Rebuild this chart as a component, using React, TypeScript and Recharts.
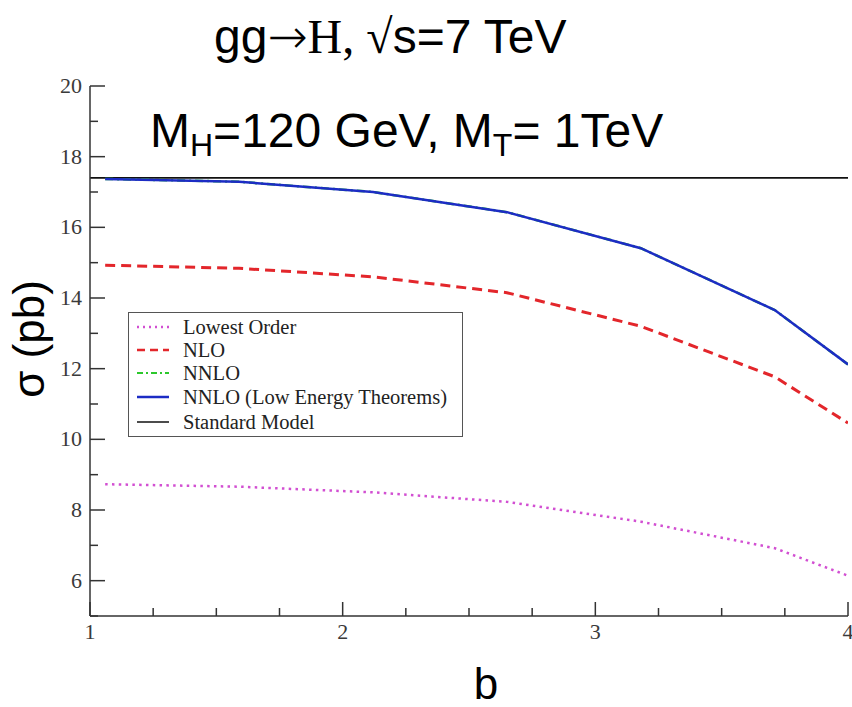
import { LineChart, Line, XAxis, YAxis, Legend } from "recharts";

// b values where the curves were computed
const bValues = [1.06, 1.59, 2.12, 2.65, 3.18, 3.71, 4.0];
// cross sections in pb
const lowestOrder = [8.73, 8.66, 8.5, 8.23, 7.67, 6.92, 6.14];
const nlo = [14.93, 14.84, 14.6, 14.15, 13.2, 11.77, 10.46];
const nnlo = [17.37, 17.29, 17.0, 16.43, 15.41, 13.66, 12.12];
const nnloLet = [17.37, 17.29, 17.0, 16.43, 15.41, 13.66, 12.12];
// standard model reference
const smB = [1, 4];
const smSigma = [17.4, 17.4];

const xTicks = [1, 1.25, 1.5, 1.75, 2, 2.25, 2.5, 2.75, 3, 3.25, 3.5, 3.75, 4];
const yTicks = [5, 6, 7, 8, 9, 10, 11, 12, 13, 14, 15, 16, 17, 18, 19, 20];
const yLabeled = [6, 8, 10, 12, 14, 16, 18, 20];

const data = bValues.map((b, i) => ({
  b,
  lo: lowestOrder[i],
  nlo: nlo[i],
  nnlo: nnlo[i],
  nnloLet: nnloLet[i],
}));
const smData = smB.map((b, i) => ({ b, sm: smSigma[i] }));

const AXIS = "#333";
const LABEL = "#3a3a3a";
const SERIF = "'Liberation Serif', 'Times New Roman', serif";
const SANS = "'Liberation Sans', Arial, sans-serif";

const LO_COLOR = "#d24fd2";
const NLO_COLOR = "#e3262b";
const NNLO_COLOR = "#2cc82c";
const LET_COLOR = "#1c2cc4";
const SM_COLOR = "#111";

const isMajor = (v: number) => Math.abs(v - Math.round(v)) < 1e-6;

function BottomTick({ x, y, payload }: any) {
  const v = payload.value;
  const major = isMajor(v);
  return (
    <g>
      <line x1={x} x2={x} y1={y} y2={y - (major ? 14 : 8)} stroke={AXIS} strokeWidth={1.5} />
      {major && (
        <text x={x} y={y + 23} textAnchor="middle" fontFamily={SERIF} fontSize={22} fill={LABEL}>
          {v}
        </text>
      )}
    </g>
  );
}

function TopTick({ x, y, payload }: any) {
  const major = isMajor(payload.value);
  return <line x1={x} x2={x} y1={y} y2={y + (major ? 14 : 8)} stroke={AXIS} strokeWidth={1.5} />;
}

function LeftTick({ x, y, payload }: any) {
  const v = payload.value;
  const labeled = yLabeled.includes(v);
  return (
    <g>
      <line x1={x} x2={x + (labeled ? 15 : 8)} y1={y} y2={y} stroke={AXIS} strokeWidth={1.5} />
      {labeled && (
        <text x={x - 8} y={y + 7} textAnchor="end" fontFamily={SERIF} fontSize={22} fill={LABEL}>
          {v}
        </text>
      )}
    </g>
  );
}

function RightTick({ x, y, payload }: any) {
  const labeled = yLabeled.includes(payload.value);
  return <line x1={x} x2={x - (labeled ? 15 : 8)} y1={y} y2={y} stroke={AXIS} strokeWidth={1.5} />;
}

const legendItems = [
  { name: "Lowest Order", color: LO_COLOR, dash: "2 4", width: 2.5 },
  { name: "NLO", color: NLO_COLOR, dash: "8 5", width: 2.5 },
  { name: "NNLO", color: NNLO_COLOR, dash: "6 3 2 3", width: 2 },
  { name: "NNLO (Low Energy Theorems)", color: LET_COLOR, dash: undefined, width: 2.5 },
  { name: "Standard Model", color: SM_COLOR, dash: undefined, width: 1.5 },
];
const legendRows = [15, 38, 61, 85, 110];

function LegendBox() {
  return (
    <div
      style={{
        width: 335,
        height: 125,
        border: "1.5px solid #555",
        background: "#fff",
        boxSizing: "border-box",
      }}
    >
      <svg width={332} height={122} style={{ display: "block" }}>
        {legendItems.map((it, i) => (
          <g key={it.name}>
            <line
              x1={8}
              x2={40}
              y1={legendRows[i] - 1}
              y2={legendRows[i] - 1}
              stroke={it.color}
              strokeWidth={it.width}
              strokeDasharray={it.dash}
            />
            <text x={54} y={legendRows[i] + 6} fontFamily={SERIF} fontSize={20.5} fill="#222">
              {it.name}
            </text>
          </g>
        ))}
      </svg>
    </div>
  );
}

export default function App() {
  return (
    <div style={{ position: "absolute", left: 0, top: 0, width: 852, height: 707, background: "#fff" }}>
      <LineChart
        width={852}
        height={707}
        data={data}
        margin={{ top: 86, right: 4, bottom: 51, left: 0 }}
      >
        <XAxis
          dataKey="b"
          type="number"
          domain={[1, 4]}
          allowDataOverflow
          ticks={xTicks}
          interval={0}
          height={40}
          tickSize={0}
          tickMargin={0}
          tick={<BottomTick />}
          axisLine={{ stroke: AXIS, strokeWidth: 1.5 }}
        />
        <XAxis
          xAxisId="top"
          orientation="top"
          dataKey="b"
          type="number"
          domain={[1, 4]}
          allowDataOverflow
          ticks={xTicks}
          interval={0}
          height={0}
          tickSize={0}
          tickMargin={0}
          tick={<TopTick />}
          axisLine={{ stroke: AXIS, strokeWidth: 1.5 }}
        />
        <YAxis
          type="number"
          domain={[5, 20]}
          allowDataOverflow
          ticks={yTicks}
          interval={0}
          width={90}
          tickSize={0}
          tickMargin={0}
          tick={<LeftTick />}
          axisLine={{ stroke: AXIS, strokeWidth: 1.5 }}
        />
        <YAxis
          yAxisId="right"
          orientation="right"
          type="number"
          domain={[5, 20]}
          allowDataOverflow
          ticks={yTicks}
          interval={0}
          width={0}
          tickSize={0}
          tickMargin={0}
          tick={<RightTick />}
          axisLine={{ stroke: AXIS, strokeWidth: 1.5 }}
        />
        <Legend
          layout="vertical"
          align="center"
          verticalAlign="middle"
          content={() => <LegendBox />}
          wrapperStyle={{ left: 128, top: 312, width: 335, height: 125 }}
        />
        <Line
          data={smData}
          xAxisId="top"
          yAxisId="right"
          dataKey="sm"
          stroke={SM_COLOR}
          strokeWidth={1.8}
          dot={false}
          isAnimationActive={false}
        />
        <Line
          dataKey="lo"
          stroke={LO_COLOR}
          strokeWidth={2.5}
          strokeDasharray="2.5 4.3"
          dot={false}
          isAnimationActive={false}
        />
        <Line
          dataKey="nlo"
          stroke={NLO_COLOR}
          strokeWidth={3}
          strokeDasharray="10 6"
          dot={false}
          isAnimationActive={false}
        />
        <Line
          dataKey="nnlo"
          stroke={NNLO_COLOR}
          strokeWidth={2.5}
          strokeDasharray="8 4 2 4"
          dot={false}
          isAnimationActive={false}
        />
        <Line
          dataKey="nnloLet"
          stroke={LET_COLOR}
          strokeWidth={2.5}
          dot={false}
          isAnimationActive={false}
        />
      </LineChart>
      <svg
        width={852}
        height={707}
        style={{ position: "absolute", left: 0, top: 0, pointerEvents: "none" }}
      >
        <text x={214} y={53} fontSize={48} fill="#000">
          <tspan fontFamily={SANS}>gg</tspan>
          <tspan fontFamily="'DejaVu Sans', sans-serif" fontWeight={200}>→</tspan>
          <tspan fontFamily={SERIF}>H, √</tspan>
          <tspan fontFamily={SANS}>s=7 TeV</tspan>
        </text>
        <text x={150} y={147} fontFamily={SANS} fontSize={48} fill="#000">
          <tspan>M</tspan>
          <tspan fontSize={32} dy={9}>H</tspan>
          <tspan dy={-9}>=120 GeV, M</tspan>
          <tspan fontSize={32} dy={9}>T</tspan>
          <tspan dy={-9}>= 1TeV</tspan>
        </text>
        <text
          transform="translate(44,339) rotate(-90)"
          textAnchor="middle"
          fontFamily={SANS}
          fontSize={44}
          fill="#000"
        >
          σ (pb)
        </text>
        <text x={486} y={699} textAnchor="middle" fontFamily={SANS} fontSize={44} fill="#000">
          b
        </text>
      </svg>
    </div>
  );
}
